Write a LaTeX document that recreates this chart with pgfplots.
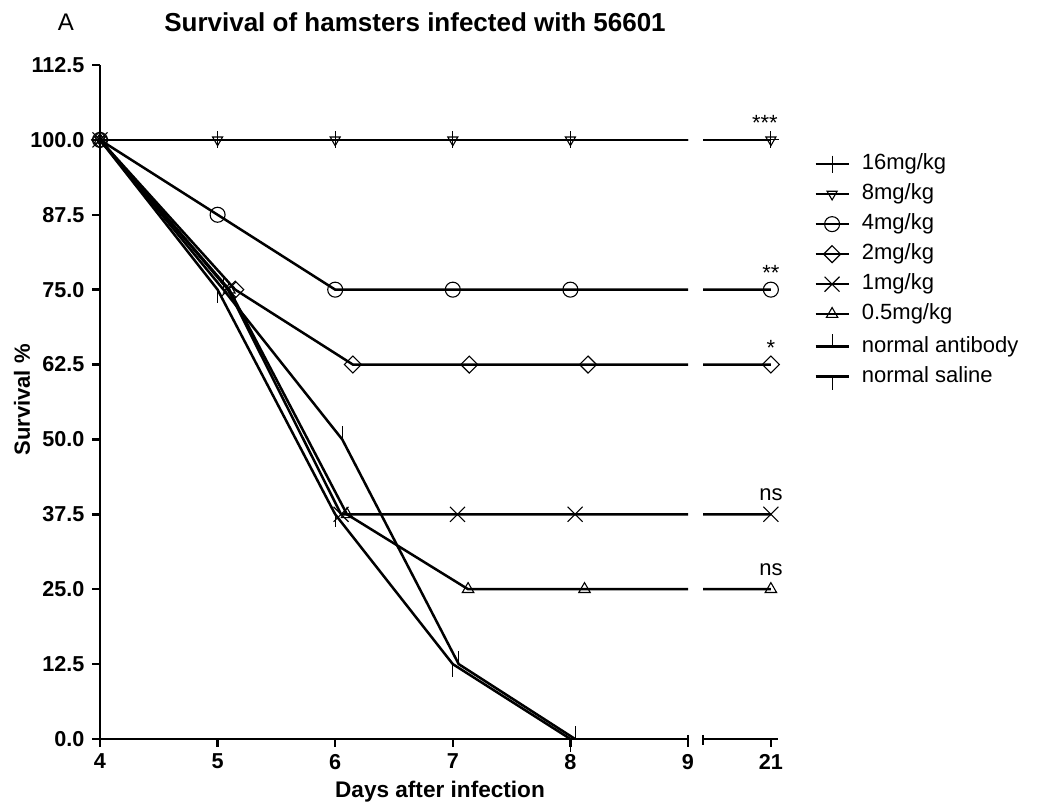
\documentclass[border=0pt]{standalone}
\usepackage{fontspec}
\setmainfont{Liberation Sans}
\usepackage{pgfplots}
\usepackage{pgfplotstable}
\pgfplotsset{compat=1.18}

% vertical tick marks pointing up / down from the point
\pgfdeclareplotmark{tup}{\pgfpathmoveto{\pgfqpoint{0pt}{0pt}}\pgfpathlineto{\pgfqpoint{0pt}{\pgfplotmarksize}}\pgfusepathqstroke}
\pgfdeclareplotmark{tdown}{\pgfpathmoveto{\pgfqpoint{0pt}{0pt}}\pgfpathlineto{\pgfqpoint{0pt}{-\pgfplotmarksize}}\pgfusepathqstroke}

\pgfplotstableread{
x y
4 100
5 100
6 100
7 100
8 100
21 100
}\sixteen
\pgfplotstableread{
x y
4 100
5 100
6 100
7 100
8 100
21 100
}\eight
\pgfplotstableread{
x y
4 100
5 87.5
6 75
7 75
8 75
21 75
}\four
\pgfplotstableread{
x y
4 100
5.15 75
6.15 62.5
7.14 62.5
8.15 62.5
21 62.5
}\two
\pgfplotstableread{
x y
4 100
5.09 75
6.05 37.5
7.04 37.5
8.04 37.5
21 37.5
}\one
\pgfplotstableread{
x y
4 100
5.1 75
6.1 37.5
7.13 25
8.12 25
21 25
}\half
\pgfplotstableread{
x y
4 100
5.05 75
6.06 50
7.05 12.5
8.04 0
}\antibody
\pgfplotstableread{
x y
4 100
5 75
6 37.5
7 12.5
8 0
}\saline

\pgfplotsset{
  survstyle/.style={
    scale only axis, height=337pt, ymin=0, ymax=112.5,
    axis line style={-, line width=1.25pt},
    tick style={line width=1.25pt, black},
    major tick length=4pt, tick align=outside,
    ticklabel style={font=\fontsize{10.8}{12}\selectfont\bfseries},
    /pgf/number format/assume math mode=true,
  },
  ser/.style={line width=1.25pt, black, mark options={line width=0.55pt, solid, black, fill=white}},
}

\newcommand{\plotall}{%
  \addplot[ser, mark=+, mark size=4.2pt] table {\sixteen};
  \addplot[ser, mark=triangle, mark size=2.9pt, every mark/.append style={rotate=180}] table {\eight};
  \addplot[ser, mark=o, mark size=3.75pt] table {\four};
  \addplot[ser, mark=square, mark size=3pt, every mark/.append style={rotate=45}] table {\two};
  \addplot[ser, mark=x, mark size=5.3pt] table {\one};
  \addplot[ser, mark=triangle, mark size=3.3pt] table {\half};
  \addplot[ser, mark=tup, mark size=6.5pt] table {\antibody};
  \addplot[ser, mark=tdown, mark size=6.5pt] table {\saline};
}

\begin{document}
\begin{tikzpicture}
\path[use as bounding box] (-50pt,-34pt) rectangle (470pt,369.5pt);

\begin{axis}[survstyle,
  at={(0pt,0pt)}, anchor=south west, width=294pt,
  xmin=4, xmax=9, xtick={4,5,6,7,8,9},
  ytick={0,12.5,25,37.5,50,62.5,75,87.5,100,112.5},
  yticklabel style={inner xsep=0.8pt, xshift=-2.8pt, /pgf/number format/.cd, fixed, fixed zerofill, precision=1},
  axis x line*=bottom, axis y line*=left,
  legend style={draw=none, fill=none, at={(rel axis cs:1.204,0.875)}, anchor=north west,
    font=\fontsize{11}{13}\selectfont, row sep=4.5pt, column sep=4pt,
    nodes={text height=8pt, text depth=2.5pt, inner ysep=0pt}},
  legend cell align=left,
  legend image code/.code={\draw[mark repeat=2, mark phase=2, #1] plot coordinates {(0pt,0pt) (8.25pt,0pt) (16.5pt,0pt)};},
]
\plotall
\legend{16mg/kg, 8mg/kg, 4mg/kg, 2mg/kg, 1mg/kg, 0.5mg/kg, normal antibody, normal saline}
\end{axis}

\begin{axis}[survstyle,
  at={(301.5pt,0pt)}, anchor=south west, width=37.5pt,
  xmin=20.43, xmax=21.06, xtick={21}, ytick=\empty,
  axis x line*=bottom, axis y line=none, clip mode=individual,
]
\plotall
\node[anchor=base, font=\fontsize{11}{13}\selectfont] at (axis cs:20.95,101.5) {***};
\node[anchor=base, font=\fontsize{11}{13}\selectfont] at (axis cs:21,76.5) {**};
\node[anchor=base, font=\fontsize{11}{13}\selectfont] at (axis cs:21,64) {*};
\node[anchor=base, font=\fontsize{11}{13}\selectfont] at (axis cs:21,39.8) {ns};
\node[anchor=base, font=\fontsize{11}{13}\selectfont] at (axis cs:21,27.3) {ns};
\end{axis}

% end bars at the axis break
\draw[line width=1.25pt] (294pt,2pt) -- (294pt,-4pt);
\draw[line width=1.25pt] (301.5pt,2pt) -- (301.5pt,-3pt);

\node[font=\fontsize{12}{14}\selectfont] at (-17pt,358.5pt) {A};
\node[font=\fontsize{13}{15}\selectfont\bfseries] at (157.5pt,358.5pt) {Survival of hamsters infected with 56601};
\node[rotate=90, font=\fontsize{11}{13}\selectfont\bfseries] at (-39pt,169.5pt) {Survival \%};
\node[font=\fontsize{11.3}{13}\selectfont\bfseries] at (170pt,-26.5pt) {Days after infection};
\end{tikzpicture}
\end{document}
